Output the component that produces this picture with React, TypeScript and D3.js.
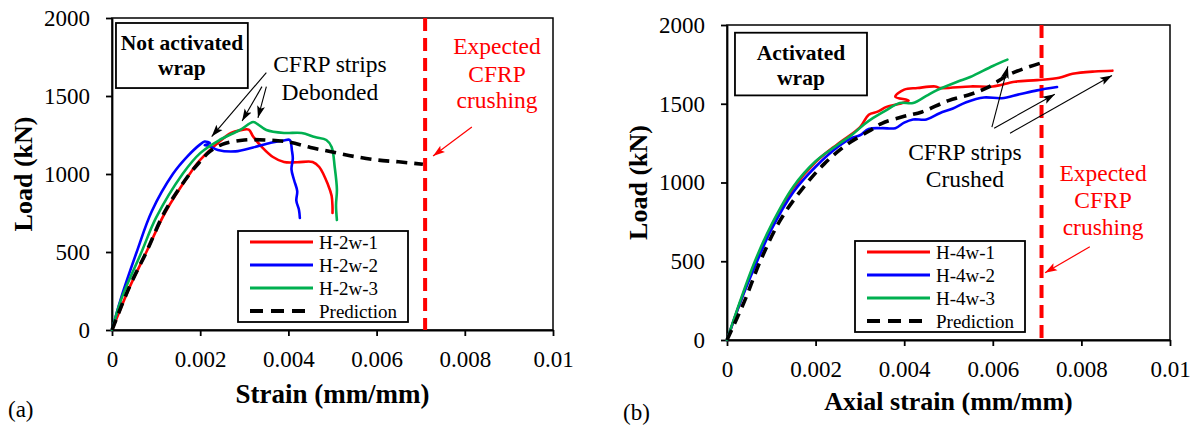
import { useEffect, useRef } from "react";
import * as d3 from "d3";

type Pt = [number, number];

// ---- panel (a): not activated wrap, [strain, load kN]
const h2w1: Pt[] = [[0, 0], [0.0002, 140], [0.0004, 275], [0.00078, 500], [0.0012, 750], [0.00176, 1000], [0.002, 1090], [0.0024, 1199], [0.0027, 1263], [0.0029, 1280], [0.0031, 1285], [0.0032, 1240], [0.0034, 1173], [0.00365, 1109], [0.0039, 1077], [0.0042, 1075], [0.00455, 1077], [0.0047, 1045], [0.0049, 930], [0.00498, 860], [0.005, 790], [0.005, 750]];
const h2w2: Pt[] = [[0, 0], [0.0002, 200], [0.00056, 500], [0.0009, 760], [0.00138, 1000], [0.0017, 1110], [0.002, 1190], [0.0021, 1208], [0.00222, 1198], [0.0021, 1185], [0.0022, 1180], [0.0024, 1154], [0.0028, 1145], [0.0032, 1170], [0.0036, 1200], [0.0039, 1215], [0.00403, 1218], [0.00408, 1150], [0.0041, 1100], [0.00407, 1030], [0.00413, 960], [0.0042, 890], [0.00418, 830], [0.00424, 770], [0.00426, 718]];
const h2w3: Pt[] = [[0, 0], [0.0002, 190], [0.00067, 500], [0.001, 720], [0.0016, 1000], [0.002, 1134], [0.00244, 1218], [0.0029, 1282], [0.0032, 1333], [0.0033, 1320], [0.0035, 1282], [0.0039, 1263], [0.0043, 1263], [0.0046, 1237], [0.00486, 1218], [0.00498, 1173], [0.00505, 1045], [0.0051, 900], [0.00508, 800], [0.0051, 705]];
const predA: Pt[] = [[0, 0], [0.0004, 280], [0.00078, 500], [0.0012, 760], [0.00176, 1000], [0.002, 1080], [0.0022, 1140], [0.0025, 1190], [0.003, 1218], [0.0035, 1218], [0.004, 1205], [0.0045, 1170], [0.005, 1141], [0.0055, 1112], [0.006, 1090], [0.0065, 1078], [0.00705, 1062]];

// ---- panel (b): activated wrap
const h4w1: Pt[] = [[0, 0], [0.0003, 240], [0.00065, 500], [0.001, 720], [0.0015, 965], [0.002, 1130], [0.0025, 1245], [0.003, 1350], [0.0032, 1430], [0.0034, 1450], [0.0036, 1480], [0.0039, 1500], [0.0041, 1520], [0.0038, 1545], [0.004, 1590], [0.0043, 1600], [0.0047, 1610], [0.0048, 1600], [0.0055, 1610], [0.006, 1610], [0.0065, 1640], [0.007, 1650], [0.0075, 1665], [0.0078, 1690], [0.0083, 1705], [0.0087, 1710]];
const h4w2: Pt[] = [[0, 0], [0.0003, 240], [0.00068, 500], [0.001, 700], [0.0015, 940], [0.002, 1100], [0.0025, 1225], [0.0028, 1280], [0.003, 1300], [0.0032, 1340], [0.0035, 1345], [0.0038, 1345], [0.004, 1380], [0.0042, 1400], [0.0045, 1400], [0.0048, 1440], [0.0051, 1470], [0.0054, 1510], [0.0058, 1540], [0.0062, 1535], [0.0066, 1560], [0.007, 1585], [0.00745, 1606]];
const h4w3: Pt[] = [[0, 0], [0.0003, 250], [0.00063, 500], [0.001, 730], [0.0015, 975], [0.002, 1135], [0.0025, 1240], [0.00285, 1310], [0.0031, 1370], [0.0033, 1410], [0.0036, 1460], [0.0039, 1505], [0.0042, 1505], [0.0045, 1550], [0.00473, 1585], [0.0052, 1640], [0.00549, 1670], [0.006, 1740], [0.00633, 1780]];
const predB: Pt[] = [[0, 0], [0.0004, 250], [0.00075, 500], [0.0012, 760], [0.0017, 960], [0.0022, 1120], [0.0027, 1240], [0.0032, 1325], [0.0035, 1376], [0.004, 1420], [0.0044, 1448], [0.005, 1520], [0.0055, 1560], [0.0059, 1606], [0.0064, 1690], [0.0071, 1760]];

const xTicks = [0, 0.002, 0.004, 0.006, 0.008, 0.01];
const xTickLabels = ["0", "0.002", "0.004", "0.006", "0.008", "0.01"];
const yTicks = [0, 500, 1000, 1500, 2000];
const crushStrain = 0.0071;
const colors = ["#ff0000", "#0000ff", "#00b050"];
const legendA = ["H-2w-1", "H-2w-2", "H-2w-3", "Prediction"];
const legendB = ["H-4w-1", "H-4w-2", "H-4w-3", "Prediction"];

// annotation arrows [from, to] in data units
const arrowsA: [Pt, Pt][] = [
  [[0.0035, 1650], [0.00226, 1240]],
  [[0.0034, 1560], [0.00295, 1340]],
  [[0.0035, 1560], [0.00331, 1360]],
];
const arrowsB: [Pt, Pt][] = [
  [[0.00598, 1351], [0.00634, 1737]],
  [[0.00603, 1345], [0.0074, 1560]],
  [[0.00639, 1313], [0.00869, 1680]],
];

const SERIF = "'Liberation Serif', 'Times New Roman', serif";

interface Panel {
  left: number; right: number; top: number; bottom: number;
  series: Pt[][]; pred: Pt[]; legend: string[];
  tag: string; tagY: number;
  xTitle: string; xTitleY: number; xTitleSize: number;
  box: [string, string]; boxArea: [number, number, number, number];
  note: [string, string]; noteAt: [number, number, number];
  arrows: [Pt, Pt][];
  redAt: [number, number, number, number];
  redArrow: [Pt, Pt];
}

const panels: Panel[] = [
  {
    left: 112, right: 553, top: 18, bottom: 330,
    series: [h2w1, h2w2, h2w3], pred: predA, legend: legendA,
    tag: "(a)", tagY: 417,
    xTitle: "Strain (mm/mm)", xTitleY: 403, xTitleSize: 27,
    box: ["Not activated", "wrap"], boxArea: [0.00009, 0.00308, 1968, 1551],
    note: ["CFRP strips", "Debonded"], noteAt: [0.00494, 1654, 1474],
    arrows: arrowsA,
    redAt: [0.00873, 1769, 1590, 1423],
    redArrow: [[0.00816, 1301], [0.00728, 1115]],
  },
  {
    left: 727, right: 1170, top: 25, bottom: 340,
    series: [h4w1, h4w2, h4w3], pred: predB, legend: legendB,
    tag: "(b)", tagY: 420,
    xTitle: "Axial strain (mm/mm)", xTitleY: 410, xTitleSize: 26,
    box: ["Activated", "wrap"], boxArea: [0.00018, 0.00316, 1951, 1553],
    note: ["CFRP strips", "Crushed"], noteAt: [0.00537, 1142, 972],
    arrows: arrowsB,
    redAt: [0.00849, 1009, 839, 668],
    redArrow: [[0.00819, 592], [0.00718, 427]],
  },
];

function drawPanel(svg: d3.Selection<SVGSVGElement, unknown, null, undefined>, p: Panel) {
  const x = d3.scaleLinear().domain([0, 0.01]).range([p.left, p.right]);
  const y = d3.scaleLinear().domain([0, 2000]).range([p.bottom, p.top]);
  const g = svg.append("g");

  // frame
  g.append("rect")
    .attr("x", p.left).attr("y", p.top)
    .attr("width", p.right - p.left).attr("height", p.bottom - p.top)
    .attr("fill", "none").attr("stroke", "#000").attr("stroke-width", 1.5);

  const xAxis = g.append("g")
    .attr("transform", `translate(0,${p.bottom})`)
    .call(d3.axisBottom(x).tickValues(xTicks).tickFormat((_, i) => xTickLabels[i]).tickSize(6).tickSizeOuter(0).tickPadding(15));
  const yAxis = g.append("g")
    .attr("transform", `translate(${p.left},0)`)
    .call(d3.axisLeft(y).tickValues(yTicks).tickFormat(d3.format("d")).tickSize(6).tickSizeOuter(0).tickPadding(16));
  [xAxis, yAxis].forEach((a) => {
    a.attr("font-family", SERIF).attr("font-size", 23);
    a.selectAll("path,line").attr("stroke", "#000").attr("stroke-width", 1.8);
    a.selectAll("text").attr("fill", "#000");
  });

  // axis titles
  g.append("text")
    .attr("x", (p.left + p.right) / 2).attr("y", p.xTitleY)
    .attr("text-anchor", "middle").attr("font-family", SERIF)
    .attr("font-weight", "bold").attr("font-size", p.xTitleSize)
    .text(p.xTitle);
  g.append("text")
    .attr("transform", "rotate(-90)")
    .attr("x", -(p.top + p.bottom) / 2).attr("y", p.left - 80)
    .attr("text-anchor", "middle").attr("font-family", SERIF)
    .attr("font-weight", "bold").attr("font-size", 26)
    .text("Load (kN)");
  g.append("text")
    .attr("x", p.left - 104).attr("y", p.tagY)
    .attr("font-family", SERIF).attr("font-size", 23)
    .text(p.tag);

  // expected crushing line
  g.append("line")
    .attr("x1", x(crushStrain)).attr("x2", x(crushStrain))
    .attr("y1", p.top).attr("y2", p.bottom)
    .attr("stroke", "#ff0000").attr("stroke-width", 4)
    .attr("stroke-dasharray", "13 7");

  const line = d3.line<Pt>().x((d) => x(d[0])).y((d) => y(d[1])).curve(d3.curveCatmullRom.alpha(0.5));
  p.series.forEach((s, i) => {
    g.append("path").attr("d", line(s)).attr("fill", "none")
      .attr("stroke", colors[i]).attr("stroke-width", 2.6)
      .attr("stroke-linejoin", "round").attr("stroke-linecap", "round");
  });
  g.append("path").attr("d", line(p.pred)).attr("fill", "none")
    .attr("stroke", "#000").attr("stroke-width", 3.6)
    .attr("stroke-dasharray", "11 7");

  // label box
  const [bx0, bx1, by0, by1] = p.boxArea;
  g.append("rect")
    .attr("x", x(bx0)).attr("y", y(by0))
    .attr("width", x(bx1) - x(bx0)).attr("height", y(by1) - y(by0))
    .attr("fill", "#fff").attr("stroke", "#000").attr("stroke-width", 1.8);
  p.box.forEach((t, i) => {
    g.append("text")
      .attr("x", (x(bx0) + x(bx1)) / 2).attr("y", y(by0) + 27 + i * 25)
      .attr("text-anchor", "middle").attr("font-family", SERIF)
      .attr("font-weight", "bold").attr("font-size", 21.5)
      .text(t);
  });

  // black note + arrows
  p.note.forEach((t, i) => {
    g.append("text")
      .attr("x", x(p.noteAt[0])).attr("y", y(p.noteAt[i + 1]))
      .attr("text-anchor", "middle").attr("font-family", SERIF).attr("font-size", 23.5)
      .text(t);
  });
  p.arrows.forEach(([a, b]) => {
    g.append("line")
      .attr("x1", x(a[0])).attr("y1", y(a[1])).attr("x2", x(b[0])).attr("y2", y(b[1]))
      .attr("stroke", "#000").attr("stroke-width", 1.1)
      .attr("marker-end", "url(#headBlack)");
  });

  // red note + arrow
  ["Expected", "CFRP", "crushing"].forEach((t, i) => {
    g.append("text")
      .attr("x", x(p.redAt[0])).attr("y", y(p.redAt[i + 1]))
      .attr("text-anchor", "middle").attr("font-family", SERIF).attr("font-size", 23.5)
      .attr("fill", "#ff0000")
      .text(t);
  });
  g.append("line")
    .attr("x1", x(p.redArrow[0][0])).attr("y1", y(p.redArrow[0][1]))
    .attr("x2", x(p.redArrow[1][0])).attr("y2", y(p.redArrow[1][1]))
    .attr("stroke", "#ff0000").attr("stroke-width", 1.2)
    .attr("marker-end", "url(#headRed)");

  // legend
  const lw = 170, lh = 91;
  const lx = p.right - 145 - lw, ly = p.bottom - 8 - lh;
  const lg = g.append("g").attr("transform", `translate(${lx},${ly})`);
  lg.append("rect").attr("width", lw).attr("height", lh)
    .attr("fill", "#fff").attr("stroke", "#000").attr("stroke-width", 1.8);
  p.legend.forEach((name, i) => {
    const ry = 11 + i * 23;
    const isPred = i === 3;
    lg.append("line").attr("x1", 12).attr("x2", 75).attr("y1", ry).attr("y2", ry)
      .attr("stroke", isPred ? "#000" : colors[i])
      .attr("stroke-width", isPred ? 4 : 2.8)
      .attr("stroke-dasharray", isPred ? "13 8" : null);
    lg.append("text").attr("x", 81).attr("y", ry + 6.5)
      .attr("font-family", SERIF).attr("font-size", 19)
      .text(name);
  });
}

export default function App() {
  const ref = useRef<SVGSVGElement>(null);
  useEffect(() => {
    const svg = d3.select(ref.current!);
    svg.selectAll("*").remove();
    const defs = svg.append("defs");
    [["headBlack", "#000"], ["headRed", "#ff0000"]].forEach(([id, c]) => {
      defs.append("marker")
        .attr("id", id).attr("viewBox", "0 0 12 10")
        .attr("refX", 12).attr("refY", 5)
        .attr("markerWidth", 12).attr("markerHeight", 10)
        .attr("markerUnits", "userSpaceOnUse").attr("orient", "auto")
        .append("path").attr("d", "M0,1 L12,5 L0,9 L2.5,5 z").attr("fill", c);
    });
    panels.forEach((p) => drawPanel(svg, p));
  }, []);
  return (
    <svg
      ref={ref}
      width={1199}
      height={432}
      style={{ position: "absolute", left: 0, top: 0, background: "#fff" }}
    />
  );
}
